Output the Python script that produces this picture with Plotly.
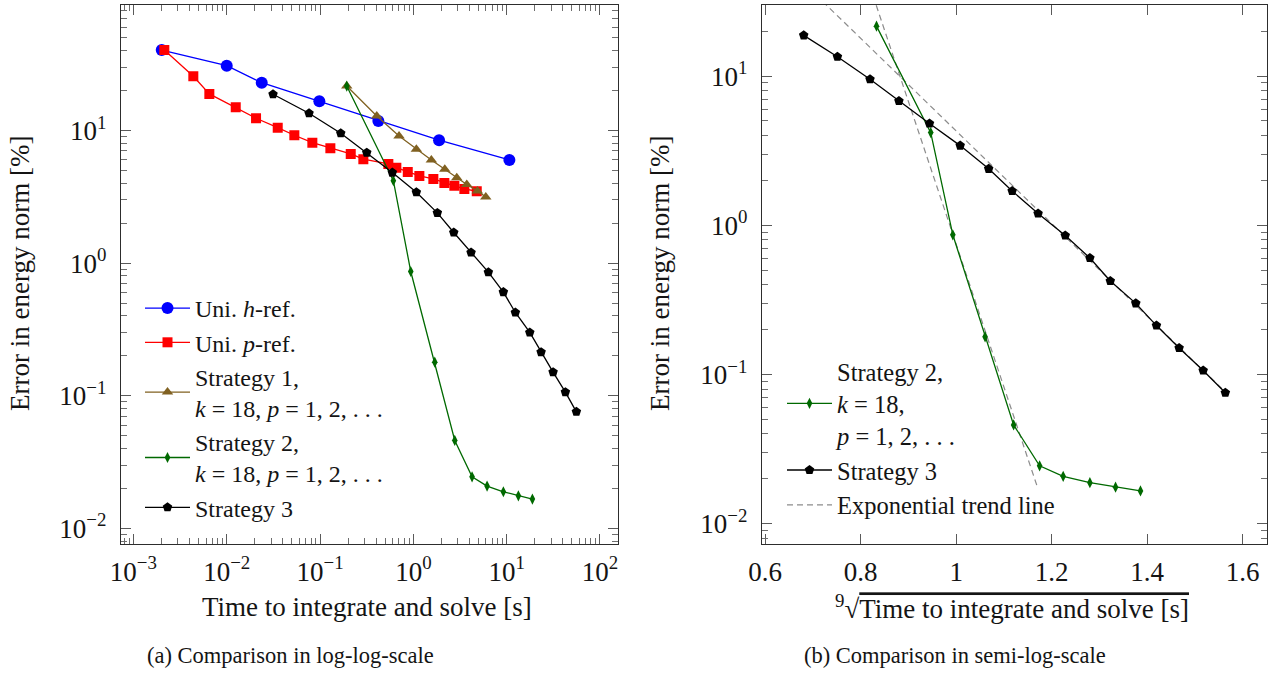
import numpy as np
import plotly.graph_objects as go

# ---------------------------------------------------------------------------
# Measured data: time to integrate and solve [s] vs. error in energy norm [%]
# ---------------------------------------------------------------------------
h_time = [0.002011, 0.0100, 0.02372, 0.0983, 0.4215, 1.886, 10.69]
h_err = [40.4, 30.8, 22.9, 16.6, 11.8, 8.44, 5.99]

p_time = [0.002144, 0.004385, 0.006511, 0.01249, 0.02061, 0.03520, 0.05303,
          0.08271, 0.1290, 0.2133, 0.2911, 0.5395, 0.6573, 0.8710, 1.160,
          1.638, 2.149, 2.750, 3.521, 4.780]
p_err = [40.4, 25.6, 18.84, 14.96, 12.36, 10.50, 9.20, 8.09, 7.34, 6.65,
         6.07, 5.59, 5.24, 4.87, 4.54, 4.31, 4.02, 3.82, 3.62, 3.48]

s1_time = [0.1933, 0.4053, 0.7026, 1.077, 1.559, 2.171, 2.919, 3.735, 4.853, 5.970]
s1_err = [21.6, 12.86, 9.09, 7.22, 5.99, 5.10, 4.39, 3.91, 3.50, 3.15]

s2_time = [0.1933, 0.6105, 0.9378, 1.696, 2.778, 4.258, 6.166, 9.218, 13.35, 18.86]
s2_err = [21.6, 4.18, 0.864, 0.179, 0.0460, 0.02448, 0.02083, 0.01887, 0.01760, 0.01663]

s3_time = [0.03135, 0.07622, 0.1667, 0.3166, 0.5954, 1.077, 1.808, 2.710, 4.154,
           6.366, 9.218, 12.39, 17.69, 23.37, 31.43, 42.58, 55.86]
s3_err = [18.74, 13.48, 9.53, 6.80, 4.81, 3.42, 2.39, 1.70, 1.20, 0.854, 0.604,
          0.424, 0.300, 0.213, 0.1506, 0.1064, 0.0756]

# points used for the exponential trend lines and the extent of each line
s2_fit_range = (0, 5)
s3_fit_range = (8, len(s3_time))
s2_trend_end = 1.17

log_ticks = [1e-3, 1e-2, 1e-1, 1e0, 1e1, 1e2]
log_labels = ["10<sup>−3</sup>", "10<sup>−2</sup>", "10<sup>−1</sup>",
              "10<sup>0</sup>", "10<sup>1</sup>", "10<sup>2</sup>"]
err_ticks = [1e-2, 1e-1, 1e0, 1e1]
err_labels = ["10<sup>−2</sup>", "10<sup>−1</sup>", "10<sup>0</sup>", "10<sup>1</sup>"]
root_ticks = [0.6, 0.8, 1.0, 1.2, 1.4, 1.6]
root_labels = ["0.6", "0.8", "1", "1.2", "1.4", "1.6"]

BLUE = "rgb(0,0,255)"
RED = "rgb(255,0,0)"
BROWN = "rgb(128,97,33)"
GREEN = "rgb(0,105,0)"
BLACK = "rgb(0,0,0)"
GRAY = "rgb(140,140,140)"
SERIF = "Liberation Serif"
TXT = "rgb(20,20,20)"
FS_TITLE = 27
FS_TICK = 27
FS_LEG_A = 24
FS_LEG_B = 24.5
FS_CAP = 22.5

fig = go.Figure()


def series(name, x, y, color, symbol, size, xa, ya, legend, showlegend=True):
    fig.add_trace(go.Scatter(
        x=x, y=y, mode="lines+markers", name=name,
        line=dict(color=color, width=1.3),
        marker=dict(symbol=symbol, size=size, color=color, line=dict(width=0)),
        xaxis=xa, yaxis=ya, legend=legend, showlegend=showlegend))


def ninth_root(t):
    return np.asarray(t, dtype=float) ** (1.0 / 9.0)


# (a) log-log comparison
series("Uni. <i>h</i>-ref.", h_time, h_err, BLUE, "circle", 12, "x", "y", "legend")
series("Uni. <i>p</i>-ref.", p_time, p_err, RED, "square", 10, "x", "y", "legend")
series("Strategy 1,<br><i>k</i> = 18, <i>p</i> = 1, 2, . . .", s1_time, s1_err,
       BROWN, "triangle-up", 10, "x", "y", "legend")
series("Strategy 2,<br><i>k</i> = 18, <i>p</i> = 1, 2, . . .", s2_time, s2_err,
       GREEN, "diamond-tall", 8, "x", "y", "legend")
series("Strategy 3", s3_time, s3_err, BLACK, "pentagon", 10, "x", "y", "legend")

# (b) semi-log comparison over the ninth root of the time
s2_root = ninth_root(s2_time)
s3_root = ninth_root(s3_time)


def exp_trend(xr, err, rng, x_lo, x_hi):
    a, b = rng
    slope, icpt = np.polyfit(xr[a:b], np.log10(np.asarray(err[a:b])), 1)
    xs = np.array([x_lo, x_hi])
    return xs, 10 ** (icpt + slope * xs)


tx2, ty2 = exp_trend(s2_root, s2_err, s2_fit_range, 0.6, s2_trend_end)
tx3, ty3 = exp_trend(s3_root, s3_err, s3_fit_range, 0.6, s3_root[-1])

trend_line = dict(color=GRAY, width=1.2, dash="6px,4px")
fig.add_trace(go.Scatter(x=tx2, y=ty2, mode="lines", name="Exponential trend line",
                         line=trend_line, xaxis="x2", yaxis="y2",
                         legend="legend2", showlegend=False))
fig.add_trace(go.Scatter(x=tx3, y=ty3, mode="lines", name="Exponential trend line",
                         line=trend_line, xaxis="x2", yaxis="y2",
                         legend="legend2", showlegend=False))
series("Strategy 2,<br><i>k</i> = 18,<br><i>p</i> = 1, 2, . . .", s2_root, s2_err,
       GREEN, "diamond-tall", 8, "x2", "y2", "legend2")
series("Strategy 3", s3_root, s3_err, BLACK, "pentagon", 10, "x2", "y2", "legend2")
# legend entry for the trend lines (listed last)
fig.add_trace(go.Scatter(x=[None], y=[None], mode="lines", name="Exponential trend line",
                         line=trend_line, xaxis="x2", yaxis="y2", legend="legend2"))

minor_log = [k * 10.0 ** e for e in range(-4, 3) for k in range(2, 10)]

axis_common = dict(
    showline=True, linecolor="rgb(45,45,45)", linewidth=1.4, mirror="allticks",
    ticks="inside", ticklen=10, tickwidth=1, tickcolor="rgb(90,90,90)",
    showgrid=False, zeroline=False, automargin=False,
    tickfont=dict(family=SERIF, size=FS_TICK, color=TXT),
)
minor_common = dict(ticks="inside", ticklen=6, tickwidth=1,
                    tickcolor="rgb(110,110,110)", showgrid=False, tickvals=minor_log)

ydom = [1 - 544 / 675, 1 - 4.7 / 675]

fig.update_layout(
    width=1280, height=675,
    margin=dict(l=0, r=0, t=0, b=0, pad=0),
    paper_bgcolor="white", plot_bgcolor="white",
    font=dict(family=SERIF, size=FS_TITLE, color=TXT),
    xaxis=dict(axis_common, type="log", range=[-3.133, 2.193],
               domain=[121 / 1280, 618 / 1280], anchor="y",
               tickmode="array", tickvals=log_ticks, ticktext=log_labels,
               minor=minor_common, ticklabelstandoff=3),
    yaxis=dict(axis_common, type="log", range=[-2.118, 1.948], domain=ydom,
               anchor="x", tickmode="array", tickvals=err_ticks, ticktext=err_labels,
               minor=minor_common, ticklabelstandoff=8),
    xaxis2=dict(axis_common, type="linear", range=[0.5933, 1.6508],
                domain=[762 / 1280, 1267 / 1280], anchor="y2",
                tickmode="array", tickvals=root_ticks, ticktext=root_labels,
                ticklabelstandoff=3),
    yaxis2=dict(axis_common, type="log", range=[-2.135, 1.478], domain=ydom,
                anchor="x2", tickmode="array", tickvals=err_ticks, ticktext=err_labels,
                minor=minor_common, ticklabelstandoff=8),
    legend=dict(x=140 / 1280, y=1 - 286 / 675, xanchor="left", yanchor="top",
                bgcolor="rgba(0,0,0,0)", borderwidth=0, itemwidth=45,
                font=dict(family=SERIF, size=FS_LEG_A, color=TXT), tracegroupgap=0,
                valign="middle"),
    legend2=dict(x=782 / 1280, y=1 - 349 / 675, xanchor="left", yanchor="top",
                 bgcolor="rgba(0,0,0,0)", borderwidth=0, itemwidth=45,
                 font=dict(family=SERIF, size=FS_LEG_B, color=TXT), tracegroupgap=0,
                 valign="middle"),
    showlegend=True,
)

ann = dict(showarrow=False, xref="paper", yref="paper",
           font=dict(family=SERIF, size=FS_TITLE, color=TXT))
fig.add_annotation(ann, text="Time to integrate and solve [s]",
                   x=367 / 1280, y=1 - 607 / 675, xanchor="center", yanchor="middle")
fig.add_annotation(ann, text="<sup>9</sup>√<span style=\"text-decoration:overline\">"
                   "Time to integrate and solve [s]</span>",
                   x=1012 / 1280, y=1 - 607 / 675, xanchor="center", yanchor="middle")
fig.add_annotation(ann, text="Error in energy norm [%]", textangle=-90,
                   x=20 / 1280, y=1 - 274 / 675, xanchor="center", yanchor="middle")
fig.add_annotation(ann, text="Error in energy norm [%]", textangle=-90,
                   x=660 / 1280, y=1 - 274 / 675, xanchor="center", yanchor="middle")
cap = dict(ann, font=dict(family=SERIF, size=FS_CAP, color=TXT))
fig.add_annotation(cap, text="(a) Comparison in log-log-scale",
                   x=290 / 1280, y=1 - 655 / 675, xanchor="center", yanchor="middle")
fig.add_annotation(cap, text="(b) Comparison in semi-log-scale",
                   x=955 / 1280, y=1 - 655 / 675, xanchor="center", yanchor="middle")

fig.write_html("out.html")
